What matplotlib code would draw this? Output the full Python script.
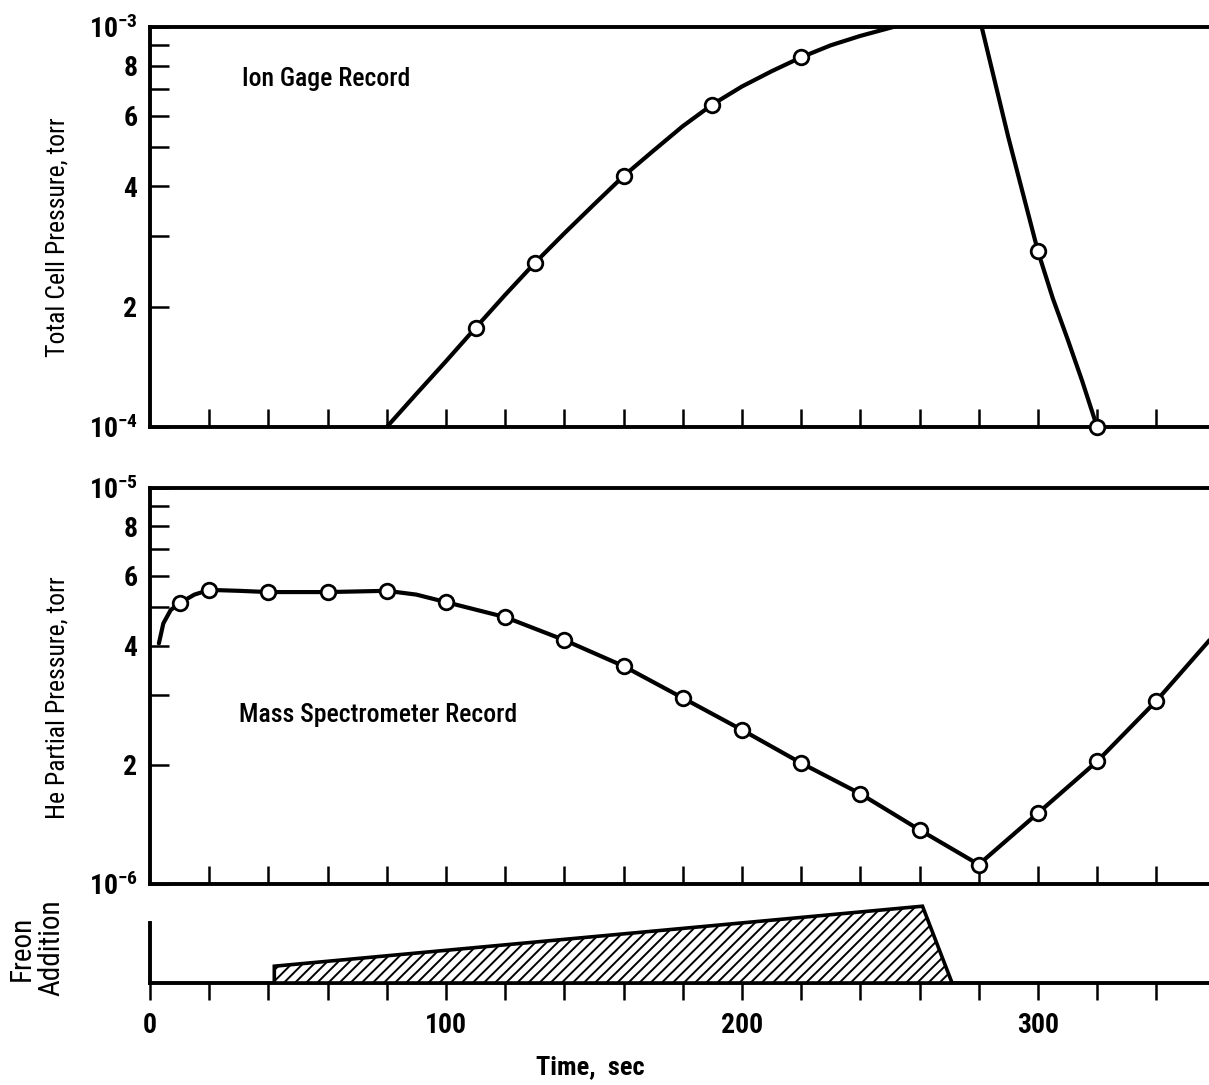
import matplotlib
matplotlib.use('Agg')
import matplotlib.pyplot as plt
from matplotlib import font_manager
import numpy as np

# ion gage record (total cell pressure, torr)
ion_t = [110, 130, 160, 190, 220, 300, 320]
ion_p = [1.77e-4, 2.57e-4, 4.24e-4, 6.40e-4, 8.40e-4, 2.75e-4, 1.0e-4]
ion_curve_t = [80, 90, 100, 110, 120, 130, 140, 150, 160, 170, 180, 190, 200, 210,
               220, 230, 240, 250, 260, 270, 281, 290, 300, 305, 310, 315, 320]
ion_curve_p = [1.00e-4, 1.21e-4, 1.46e-4, 1.77e-4, 2.14e-4, 2.57e-4, 3.05e-4, 3.60e-4,
               4.24e-4, 4.90e-4, 5.65e-4, 6.40e-4, 7.10e-4, 7.75e-4, 8.40e-4, 9.00e-4,
               9.50e-4, 9.95e-4, 1.04e-3, 1.05e-3, 1.00e-3, 5.3e-4,
               2.75e-4, 2.10e-4, 1.66e-4, 1.30e-4, 1.00e-4]

# mass spectrometer record (He partial pressure, torr)
he_t = [10, 20, 40, 60, 80, 100, 120, 140, 160, 180, 200, 220, 240, 260, 280, 300, 320, 340]
he_p = [5.12e-6, 5.53e-6, 5.46e-6, 5.46e-6, 5.50e-6, 5.15e-6, 4.72e-6, 4.13e-6, 3.55e-6,
        2.95e-6, 2.45e-6, 2.02e-6, 1.69e-6, 1.37e-6, 1.12e-6, 1.51e-6, 2.04e-6, 2.90e-6]
he_curve_t = [3, 4.5, 7, 10, 15, 20, 30, 40, 60, 80, 90, 100, 120, 140, 160, 180, 200,
              220, 240, 260, 280, 300, 320, 340, 358]
he_curve_p = [4.05e-6, 4.55e-6, 4.92e-6, 5.12e-6, 5.38e-6, 5.53e-6, 5.50e-6, 5.46e-6,
              5.46e-6, 5.50e-6, 5.38e-6, 5.15e-6, 4.72e-6, 4.13e-6, 3.55e-6, 2.95e-6,
              2.45e-6, 2.02e-6, 1.69e-6, 1.37e-6, 1.12e-6, 1.51e-6, 2.04e-6, 2.90e-6, 4.13e-6]

# freon addition (arbitrary units)
freon_t = [42, 42, 261, 271]
freon_v = [0.0, 0.28, 1.28, 0.0]

xmax = 357.8

# look for a narrow / condensed face, the original lettering is condensed
names = {f.name for f in font_manager.fontManager.ttflist}
fam, stretch = 'DejaVu Sans', 'normal'
for c in ['Liberation Sans Narrow', 'Roboto Condensed', 'Open Sans Condensed',
          'DejaVu Sans Condensed', 'Noto Sans Condensed', 'Arial Narrow']:
    if c in names:
        fam = c
        break
else:
    for f in font_manager.fontManager.ttflist:
        if 'condensed' in str(f.stretch) and f.name in ('DejaVu Sans', 'Noto Sans', 'Roboto'):
            fam, stretch = f.name, 'condensed'
            break
narrow = fam != 'DejaVu Sans' or stretch == 'condensed'
k = 1.0 if narrow else 0.87

plt.rcParams['font.family'] = [fam, 'DejaVu Sans']
plt.rcParams['font.stretch'] = stretch
plt.rcParams['mathtext.fontset'] = 'custom'
plt.rcParams['mathtext.rm'] = fam
plt.rcParams['mathtext.bf'] = fam + ':bold'
plt.rcParams['hatch.linewidth'] = 1.4

W, H = 1209, 1085
fig = plt.figure(figsize=(W / 100, H / 100), dpi=100)

def rect(top_px, bot_px):
    return [150 / W, 1 - bot_px / H, (W - 150) / W, (bot_px - top_px) / H]

ax1 = fig.add_axes(rect(27, 427))
ax2 = fig.add_axes(rect(488, 884))
ax3 = fig.add_axes(rect(902, 983))

line_kw = dict(color='black', lw=3.0, solid_capstyle='round', solid_joinstyle='round',
               zorder=3)
mark_kw = dict(ls='none', marker='o', ms=10.5, mfc='white', mec='black', mew=2.0,
               zorder=4, clip_on=False)
tick_font = dict(fontsize=20 * k, fontweight='bold')
spine_w = 2.8

def log_panel(ax, lo, hi):
    ax.set_yscale('log')
    ax.set_ylim(lo, hi)
    ax.set_xlim(0, xmax)
    ax.spines['right'].set_visible(False)
    for s in ['left', 'top', 'bottom']:
        ax.spines[s].set_linewidth(spine_w)
    ax.set_xticks(np.arange(20, 360, 20))
    ax.set_xticklabels([])
    ax.tick_params(axis='x', direction='in', length=13, width=1.8)
    majors = [lo * m for m in range(2, 10)]
    labels = ['2', '', '4', '', '6', '', '8', '']
    ax.set_yticks([lo] + majors + [hi])
    exp_lo = int(round(np.log10(lo)))
    exp_hi = int(round(np.log10(hi)))
    ax.set_yticklabels([r'$\mathbf{10^{%d}}$' % exp_lo] + labels +
                       [r'$\mathbf{10^{%d}}$' % exp_hi], **tick_font)
    ax.yaxis.set_minor_locator(plt.NullLocator())
    ax.tick_params(axis='y', direction='in', length=14, width=1.8, pad=9)

log_panel(ax1, 1e-4, 1e-3)
ax1.plot(ion_curve_t, ion_curve_p, **line_kw)
ax1.plot(ion_t, ion_p, **mark_kw)
ax1.text(31, 7.4e-4, 'Ion Gage Record', fontsize=18.5 * k, fontweight='medium',
         va='center', ha='left')

log_panel(ax2, 1e-6, 1e-5)
ax2.plot(he_curve_t, he_curve_p, **line_kw)
ax2.plot(he_t, he_p, **mark_kw)
ax2.text(30, 2.67e-6, 'Mass Spectrometer Record', fontsize=18.5 * k, fontweight='medium',
         va='center', ha='left')

# freon panel
ax3.set_xlim(0, xmax)
ax3.set_ylim(0, 1.35)
ax3.fill(freon_t, freon_v, facecolor='white', edgecolor='black', hatch='///', lw=2.6,
         zorder=3)
ax3.spines['right'].set_visible(False)
ax3.spines['top'].set_visible(False)
ax3.spines['left'].set_bounds(0, 1.0)
ax3.spines['left'].set_linewidth(spine_w)
ax3.spines['bottom'].set_linewidth(spine_w)
ax3.set_yticks([])
ax3.set_xticks(np.arange(0, 360, 20))
ax3.set_xticklabels([str(v) if v % 100 == 0 else '' for v in np.arange(0, 360, 20)],
                    **tick_font)
ax3.tick_params(axis='x', direction='out', length=12, width=1.8, pad=9)

fig.text(57 / W, 1 - 237 / H, 'Total Cell Pressure, torr', rotation=90, fontsize=18.5 * k,
         ha='center', va='center')
fig.text(57 / W, 1 - 698 / H, 'He Partial Pressure, torr', rotation=90, fontsize=18.5 * k,
         ha='center', va='center')
fig.text(22 / W, 1 - 948 / H, 'Freon', rotation=90, fontsize=21 * k,
         ha='center', va='center')
fig.text(51 / W, 1 - 948 / H, 'Addition', rotation=90, fontsize=21 * k,
         ha='center', va='center')
fig.text(590 / W, 1 - 1067 / H, 'Time,  sec', fontsize=19 * k, fontweight='bold',
         ha='center', va='center')

fig.savefig('out.png', dpi=100)
